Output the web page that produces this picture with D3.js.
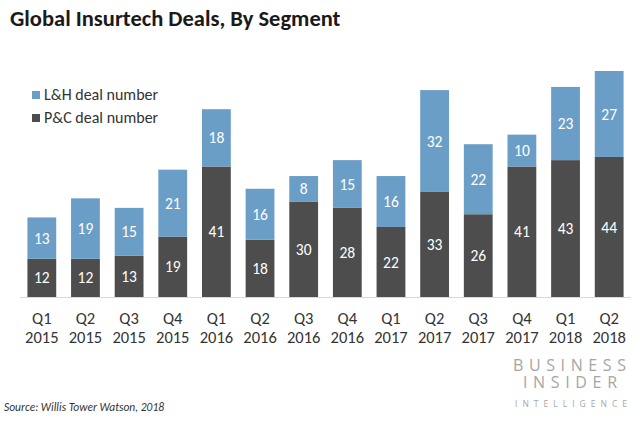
<!DOCTYPE html>
<html><head><meta charset="utf-8">
<script src="https://cdn.jsdelivr.net/npm/d3@7"></script>
<style>body{margin:0;background:#fff}svg{display:block}</style>
</head><body>
<script>
const quarters = ["Q1","Q2","Q3","Q4","Q1","Q2","Q3","Q4","Q1","Q2","Q3","Q4","Q1","Q2"];
const years = ["2015","2015","2015","2015","2016","2016","2016","2016","2017","2017","2017","2017","2018","2018"];
const pcDeals = [12,12,13,19,41,18,30,28,22,33,26,41,43,44];
const lhDeals = [13,19,15,21,18,16,8,15,16,32,22,10,23,27];
const seriesNames = ["L&H deal number","P&C deal number"];
const colors = {lh:"#6b9ec7", pc:"#4d4d4d"};

const W=640,H=422;
const svg=d3.select("body").append("svg").attr("width",W).attr("height",H);
const font="Carlito, Calibri, Lato, 'Open Sans', 'Liberation Sans', sans-serif";

svg.append("text").attr("x",10).attr("y",26).attr("font-family",font)
  .attr("font-weight","bold").attr("font-size",22.5).attr("fill","#1a1a1a")
  .text("Global Insurtech Deals, By Segment");

const idx=d3.range(quarters.length);
const x=d3.scaleBand().domain(idx).range([20,631]).paddingInner(0.34).paddingOuter(0.17);
const y=d3.scaleLinear().domain([0,71]).range([297,71]);

svg.append("line").attr("x1",20).attr("x2",631).attr("y1",y(0)+0.5).attr("y2",y(0)+0.5)
  .attr("stroke","#d9d9d9");

const g=svg.append("g");
idx.forEach(i=>{
  const x0=x(i),bw=x.bandwidth();
  g.append("rect").attr("x",x0).attr("width",bw).attr("y",y(pcDeals[i])).attr("height",y(0)-y(pcDeals[i])).attr("fill",colors.pc);
  g.append("rect").attr("x",x0).attr("width",bw).attr("y",y(pcDeals[i]+lhDeals[i])).attr("height",y(pcDeals[i])-y(pcDeals[i]+lhDeals[i])).attr("fill",colors.lh);
  g.append("text").attr("x",x0+bw/2).attr("y",(y(0)+y(pcDeals[i]))/2).attr("dy","0.36em")
    .attr("text-anchor","middle").attr("font-family",font).attr("font-size",15.5).attr("fill","#fff").text(pcDeals[i]);
  g.append("text").attr("x",x0+bw/2).attr("y",(y(pcDeals[i])+y(pcDeals[i]+lhDeals[i]))/2).attr("dy","0.36em")
    .attr("text-anchor","middle").attr("font-family",font).attr("font-size",15.5).attr("fill","#fff").text(lhDeals[i]);
  svg.append("text").attr("text-anchor","middle").attr("font-family",font).attr("font-size",16.5).attr("fill","#333")
    .attr("x",x0+bw/2).attr("y",324).text(quarters[i]);
  svg.append("text").attr("text-anchor","middle").attr("font-family",font).attr("font-size",16.5).attr("fill","#333")
    .attr("x",x0+bw/2).attr("y",343).text(years[i]);
});

const leg=svg.append("g");
[["lh",0],["pc",1]].forEach(([k,j])=>{
  leg.append("rect").attr("x",32).attr("y",91+j*23).attr("width",8).attr("height",8).attr("fill",colors[k]);
  leg.append("text").attr("x",44).attr("y",100+j*23).attr("font-family",font).attr("font-size",16).attr("fill","#333").text(seriesNames[j]);
});

svg.append("text").attr("x",4).attr("y",411).attr("font-family",font).attr("font-style","italic")
  .attr("font-size",11.5).attr("fill","#333").text("Source: Willis Tower Watson, 2018");

const logo=svg.append("g").attr("font-family","'Open Sans', 'Liberation Sans', sans-serif").attr("fill","#a6a6a6");
logo.append("text").attr("x",513).attr("y",371).attr("font-size",16).attr("textLength",113).attr("lengthAdjust","spacing").text("BUSINESS");
logo.append("text").attr("x",523).attr("y",388).attr("font-size",16).attr("textLength",94).attr("lengthAdjust","spacing").text("INSIDER");
logo.append("text").attr("x",515).attr("y",407).attr("font-size",8.5).attr("textLength",112).attr("lengthAdjust","spacing").text("INTELLIGENCE");
</script>
</body></html>
